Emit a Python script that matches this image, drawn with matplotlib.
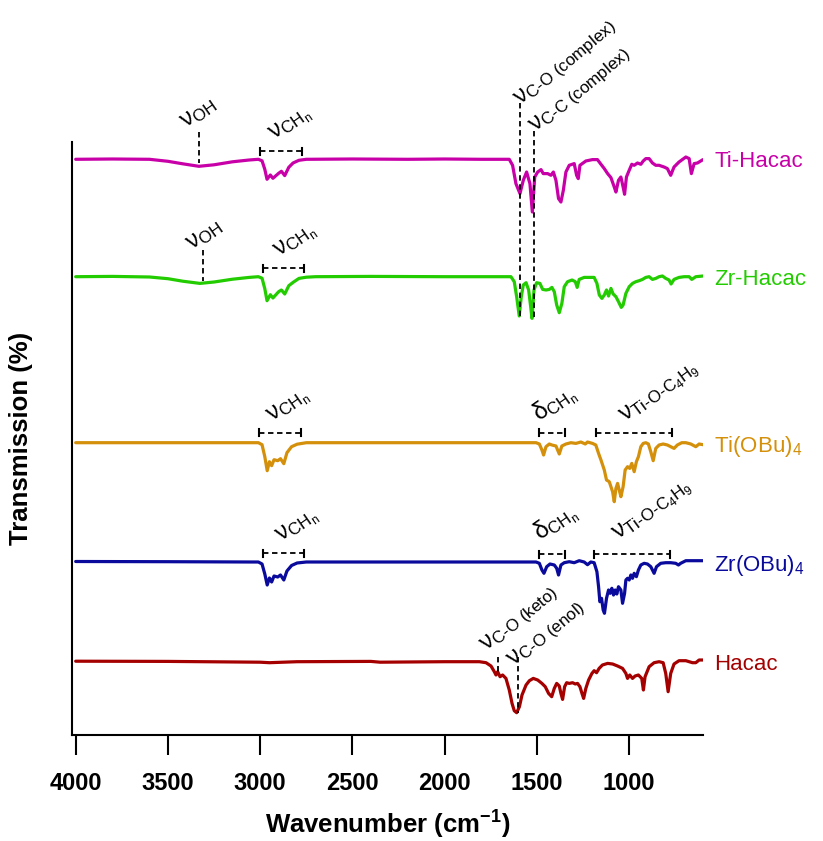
import matplotlib
matplotlib.use("Agg")
import matplotlib.pyplot as plt
import matplotlib.transforms as mtransforms

plt.rcParams['font.family'] = ['Liberation Sans', 'DejaVu Sans']
plt.rcParams['mathtext.fontset'] = 'custom'
plt.rcParams['mathtext.rm'] = 'Liberation Sans'
plt.rcParams['mathtext.it'] = 'Liberation Sans:italic'
plt.rcParams['mathtext.bf'] = 'Liberation Sans:bold'
plt.rcParams['mathtext.sf'] = 'Liberation Sans'

# ---------------- data: (wavenumber cm-1, relative transmission) ----------------
TI_HACAC = [(4000, 0), (3800, 0.3), (3600, 0), (3500, -2), (3420, -4.5), (3332, -7), (3250, -5.5),
            (3150, -2.5), (3060, -0.7), (3010, 0), (2990, -1.5), (2975, -10), (2963, -20), (2945, -15.7),
            (2931, -19), (2900, -14), (2885, -12), (2867, -16.3), (2845, -8), (2822, -3.7), (2790, -1),
            (2750, 0), (2500, 0.3), (2200, 0), (2000, 0.3), (1800, 0), (1704, 0), (1650, 0), (1632, -6),
            (1614, -24.3), (1592, -34.3), (1574, -21), (1556, -12.7), (1538, -24.3), (1525, -52.7),
            (1512, -17.7), (1496, -12.7), (1478, -10.3), (1466, -14.3), (1442, -14.3), (1424, -16),
            (1411, -12.7), (1397, -21), (1383, -39.3), (1370, -42.7), (1357, -31), (1343, -12.7),
            (1325, -6), (1298, -4.3), (1285, -16), (1276, -19.3), (1267, -6), (1235, -1.7), (1199, -0.3),
            (1172, -0.3), (1153, -5), (1135, -9.3), (1117, -14.3), (1099, -18.3), (1081, -27.7),
            (1072, -32.7), (1058, -21), (1045, -17.7), (1033, -27.7), (1025, -35), (1015, -17.7),
            (1000, -11), (986, -5), (973, -6), (955, -3.7), (937, -5), (924, -1.7), (910, 0.7), (892, 0.7),
            (874, -3.7), (856, -6), (838, -6), (811, -7.7), (793, -9.3), (775, -16), (757, -7.7),
            (730, -2.7), (693, 2.3), (675, 0.7), (663, -14.3), (648, -4.3), (630, -3.7), (600, -0.3)]

ZR_HACAC = [(4000, 0), (3800, 0.3), (3600, -0.3), (3500, -2), (3420, -4.5), (3327, -6.7), (3250, -5.3),
            (3150, -2.5), (3060, -0.7), (3010, 0), (2990, -1.5), (2975, -12), (2963, -24), (2945, -18),
            (2931, -21.3), (2900, -15), (2885, -13.3), (2867, -17.3), (2845, -9), (2822, -5.7),
            (2790, -1.7), (2750, -0.5), (2700, 0), (2400, 0.3), (2000, 0), (1704, 0), (1641, 0),
            (1623, -5), (1610, -20), (1596, -39.3), (1585, -20), (1574, -8.3), (1559, -6), (1545, -13.3),
            (1534, -30), (1527, -41.7), (1516, -13.3), (1502, -6), (1484, -6.7), (1469, -12.7),
            (1451, -13.3), (1433, -12.7), (1419, -10.7), (1406, -15), (1393, -28.3), (1379, -36),
            (1365, -26.7), (1352, -10), (1334, -5), (1310, -3.3), (1292, -5), (1282, -10.7), (1271, -2.7),
            (1244, -0.7), (1217, -0.7), (1190, -0.7), (1175, -6.7), (1162, -18.3), (1148, -21.7),
            (1135, -18.3), (1123, -13.3), (1112, -19.3), (1099, -11.7), (1087, -17.3), (1072, -20),
            (1058, -25), (1043, -30.7), (1033, -28.3), (1018, -16.7), (1000, -10), (982, -6.7),
            (964, -5), (946, -4), (928, -2.7), (910, -0.7), (892, 0), (874, -2.7), (856, -1.7), (838, 0),
            (820, 0.7), (802, -1.7), (784, -3.3), (773, -7.3), (757, -2.7), (730, -0.7), (702, 0),
            (675, 0), (661, -2.7), (639, 0), (600, 0.7)]

TI_OBU4 = [(4000, 0), (3500, 0), (3050, 0), (3010, 0), (2990, -2), (2975, -14), (2962, -28), (2950, -19),
           (2938, -23), (2925, -17), (2905, -18), (2890, -16), (2872, -21), (2855, -10), (2830, -4),
           (2800, -1.5), (2750, 0), (2400, 0), (2000, 0), (1704, 0), (1505, 0), (1487, -1.3),
           (1473, -7.3), (1464, -12.3), (1451, -4), (1433, -1.3), (1419, -2.3), (1397, -3.3),
           (1379, -11.3), (1365, -3.3), (1343, -1.3), (1316, 0), (1289, -0.7), (1262, 0.7), (1238, -1.3),
           (1226, 0.7), (1199, -0.7), (1181, -2.3), (1166, -10.7), (1153, -17.3), (1135, -27.3),
           (1123, -37.3), (1108, -39), (1099, -44), (1090, -49), (1081, -59), (1072, -45.7),
           (1063, -40.7), (1054, -47.3), (1045, -54), (1033, -44), (1022, -27.3), (1009, -24),
           (997, -25.7), (986, -20.7), (973, -29), (961, -19), (950, -14), (937, -4), (924, -0.7),
           (910, 0), (896, -1.3), (883, -9), (870, -18), (856, -5.7), (838, -2.3), (816, -1.3),
           (793, -2.3), (775, -4), (757, -5.7), (739, -2.3), (715, 0), (693, 0), (666, -1.3), (639, -4),
           (621, -1.3), (600, -2)]

ZR_OBU4 = [(4000, 0.5), (3500, 0.3), (3050, 0), (3010, 0), (2990, -2), (2975, -12), (2962, -23),
           (2950, -16), (2938, -20), (2925, -14), (2905, -15), (2890, -13), (2872, -18), (2855, -9),
           (2830, -3.5), (2800, -1), (2750, 0), (2400, 0), (2000, 0), (1704, 0), (1505, 0), (1487, -1.3),
           (1473, -8), (1462, -11.3), (1447, -4.7), (1429, -2), (1406, -3), (1393, -6.3), (1383, -13),
           (1370, -3), (1352, -0.7), (1325, 0.3), (1298, -0.7), (1271, 1.3), (1244, 0), (1226, -2.7),
           (1208, 0), (1190, -0.7), (1175, -9.7), (1166, -24.7), (1159, -39.7), (1150, -36.3),
           (1141, -48), (1134, -51.3), (1123, -36.3), (1112, -28), (1103, -31.3), (1094, -26.3),
           (1085, -33), (1076, -28), (1067, -32), (1058, -24.7), (1045, -28), (1036, -41.3),
           (1025, -31.3), (1018, -18), (1009, -16.3), (1000, -18), (991, -13), (982, -16.3),
           (973, -11.3), (961, -14.7), (950, -8), (937, -3), (919, -1.3), (901, -2), (883, -4.7),
           (865, -11.3), (852, -4.7), (829, -1.3), (802, -0.7), (775, -0.7), (748, -1.3), (733, -3),
           (721, -1.3), (693, 1.3), (657, 1.3), (600, 1.3)]

HACAC = [(4000, 0.5), (3500, 0.3), (3000, -0.5), (2950, -1), (2800, 0), (2400, 0.3), (2350, -0.5),
         (2000, 0), (1920, 0), (1812, 0), (1776, -1), (1749, -4.3), (1731, -10), (1722, -13.3),
         (1713, -10), (1700, -15), (1686, -13.3), (1668, -16.7), (1650, -28.3), (1635, -41.7),
         (1623, -49), (1610, -51), (1595, -45), (1581, -33.3), (1559, -23.3), (1541, -19),
         (1520, -16.7), (1496, -18.3), (1473, -21.7), (1455, -25), (1437, -31.7), (1420, -35),
         (1406, -26.7), (1393, -21.7), (1379, -24.3), (1370, -31.7), (1361, -37.7), (1350, -25),
         (1339, -21), (1325, -21.7), (1307, -21), (1292, -22.3), (1280, -21.7), (1267, -25),
         (1256, -31.7), (1247, -36.7), (1235, -26.7), (1220, -18.3), (1202, -11.7), (1190, -9),
         (1177, -11), (1163, -6.7), (1145, -3.3), (1117, -1.7), (1090, -2.3), (1063, -4.3),
         (1036, -6.7), (1018, -11.7), (1009, -16.7), (997, -13.3), (982, -16.7), (968, -14.3),
         (950, -13.3), (932, -16.7), (923, -28.3), (914, -15), (892, -5), (865, -1), (838, 0),
         (816, -1), (802, -11.7), (789, -30), (775, -11.7), (757, -2.3), (730, 1), (693, 1),
         (657, -1), (639, -1), (621, 1.7), (600, 1.7)]

SERIES = [TI_HACAC, ZR_HACAC, TI_OBU4, ZR_OBU4, HACAC]
NAMES = ["Ti-Hacac", "Zr-Hacac", "Ti(OBu)$_4$", "Zr(OBu)$_4$", "Hacac"]
OFFSETS = [575.7, 458.3, 292.3, 173.0, 73.3]
COLORS = ["#C800A8", "#22CC00", "#D4900A", "#0A0A9C", "#A50000"]

XTICKS = [4000, 3500, 3000, 2500, 2000, 1500, 1000]

# annotation layout (wavenumber, y in plot units)
VLINES = [(3332, 603, 572), (3310, 485, 454), (1592, 632, 418), (1516, 604, 418),
          (1713, 78, 62), (1605, 78, 22)]
BRACKETS = [(3003, 2775, 584), (2986, 2764, 467), (3008, 2781, 302.3), (2986, 2764, 182),
            (1487, 1346, 302.3), (1487, 1346, 181), (1180, 766, 302.3), (1193, 780, 181)]
S_OH = "ν$_{\\mathrm{OH}}$"
S_CH = "ν$_{\\mathrm{CH}_{\\mathrm{n}}}$"
S_DCH = "δ$_{\\mathrm{CH}_{\\mathrm{n}}}$"
S_TIO = "ν$_{\\text{Ti-O-C}_{\\mathrm{4}}\\mathrm{H}_{\\mathrm{9}}}$"
LABELS = [(3403, 607, S_OH, 35), (3371, 485, S_OH, 35), (2927, 595, S_CH, 35), (2900, 478, S_CH, 35),
          (2938, 313, S_CH, 35), (2889, 193, S_CH, 35), (1487, 313, S_DCH, 35), (1482, 194, S_DCH, 35),
          (1022, 313, S_TIO, 36), (1059, 195, S_TIO, 36),
          (1590, 630, "ν$_{\\text{C-O (complex)}}$", 40), (1509, 603, "ν$_{\\text{C-C (complex)}}$", 40),
          (1774, 84, "ν$_{\\text{C-O (keto)}}$", 40), (1628, 69, "ν$_{\\text{C-O (enol)}}$", 40)]

# ---------------- figure ----------------
W, H = 823, 841
fig = plt.figure(figsize=(W / 100, H / 100), dpi=100)
ax = fig.add_axes([72 / W, 1 - 735 / H, (703 - 72) / W, (735 - 142) / H])

for pts, name, off, col in zip(SERIES, NAMES, OFFSETS, COLORS):
    xs = [p[0] for p in pts]
    ys = [p[1] + off for p in pts]
    ax.plot(xs, ys, color=col, lw=2.3, solid_joinstyle='round', solid_capstyle='round')
    trans = mtransforms.blended_transform_factory(ax.transAxes, ax.transData)
    ax.text(1.018, off, name, transform=trans, color=col, fontsize=16,
            ha='left', va='center_baseline', clip_on=False)

dash = (0, (3, 2))
for wn, y0, y1 in VLINES:
    ax.plot([wn, wn], [y0, y1], color='k', lw=1.3, ls=dash, clip_on=False)
for w0, w1, y in BRACKETS:
    ax.plot([w0, w1], [y, y], color='k', lw=1.3, ls=dash, clip_on=False)
    for w in (w0, w1):
        ax.plot([w, w], [y - 3.5, y + 3.5], color='k', lw=1.5, clip_on=False)
for wn, y, s, rot in LABELS:
    ax.text(wn, y, s, fontsize=17.5, rotation=rot, rotation_mode='anchor',
            ha='left', va='baseline', clip_on=False)

ax.set_xlim(4020, 600)
ax.set_ylim(0, 593)
ax.set_xticks(XTICKS)
ax.set_xticklabels([str(t) for t in XTICKS], fontsize=17, fontweight='bold')
ax.set_yticks([])
ax.spines['top'].set_visible(False)
ax.spines['right'].set_visible(False)
ax.spines['left'].set_linewidth(1.5)
ax.spines['bottom'].set_linewidth(1.5)
ax.tick_params(axis='x', direction='out', length=14.5, width=1.5, pad=12)
ax.set_xlabel("Wavenumber (cm$^{\\mathbf{-1}}$)", fontsize=18.5, fontweight='bold', labelpad=10)
ax.set_ylabel("Transmission (%)", fontsize=18.5, fontweight='bold', labelpad=28)

fig.savefig("out.png", dpi=100)
